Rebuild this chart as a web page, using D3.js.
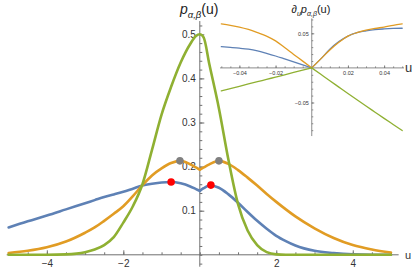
<!DOCTYPE html>
<html><head><meta charset="utf-8">
<script src="https://cdn.jsdelivr.net/npm/d3@7"></script>
<style>body{margin:0;background:#fff}svg{display:block}text{font-family:"Liberation Sans",Arial,sans-serif}</style>
</head><body>
<svg id="c" width="415" height="272"></svg>
<script>
// ---------- main plot data: p_{α,β}(u) ----------
const uMain = [-5,-4.5,-4,-3.5,-3,-2.75,-2.5,-2.25,-2,-1.75,-1.5,-1.25,-1,-0.75,-0.5,-0.25,-0.1,0,0.1,0.25,0.5,0.75,1,1.25,1.5,1.75,2,2.25,2.5,3,3.5,4,4.5,5];
const blueMain = [0.062,0.076,0.089,0.103,0.117,0.124,0.131,0.137,0.143,0.150,0.157,0.161,0.164,0.165,0.162,0.155,0.149,0.145,0.151,0.157,0.152,0.137,0.118,0.097,0.077,0.059,0.043,0.031,0.021,0.009,0.004,0.001,0,0];
const orangeMain = [0.004,0.009,0.017,0.030,0.050,0.062,0.077,0.093,0.110,0.133,0.158,0.180,0.196,0.208,0.213,0.205,0.198,0.193,0.198,0.205,0.213,0.206,0.192,0.175,0.157,0.138,0.120,0.103,0.087,0.060,0.038,0.022,0.012,0.005];
const greenMain = [0,0,0,0.001,0.006,0.012,0.022,0.040,0.073,0.110,0.160,0.238,0.318,0.381,0.436,0.478,0.496,0.500,0.493,0.432,0.332,0.215,0.115,0.055,0.022,0.006,0.001,0,0,0,0,0,0,0];
const grayDotsU = [-0.52, 0.5];
const grayDotsV = [0.213, 0.213];
const redDotsU = [-0.75, 0.29];
const redDotsV = [0.165, 0.158];
const xMajor = [-4,-2,2,4];
const yMajor = [0.1,0.2,0.3,0.4,0.5];

// ---------- inset data: ∂_u p_{α,β}(u) ----------
const uInset = [-0.05,-0.045,-0.04,-0.035,-0.03,-0.025,-0.02,-0.015,-0.01,-0.005,0,0.005,0.01,0.015,0.02,0.025,0.03,0.035,0.04,0.045,0.05];
const blueInset = [0.0306,0.0296,0.0285,0.0270,0.0245,0.0210,0.0172,0.0130,0.0087,0.0043,0,0.0130,0.0270,0.0380,0.0460,0.0510,0.0535,0.0553,0.0563,0.0570,0.0573];
const orangeInset = [0.0635,0.0615,0.0590,0.0555,0.0510,0.0460,0.0390,0.0295,0.0195,0.0098,0,0.0130,0.0260,0.0370,0.0460,0.0510,0.0545,0.0570,0.0590,0.0615,0.0635];
const greenInset = [-0.0332,-0.0299,-0.0266,-0.0232,-0.0199,-0.0166,-0.0133,-0.0100,-0.0066,-0.0033,0,-0.0093,-0.0186,-0.0278,-0.0370,-0.0461,-0.0551,-0.0640,-0.0729,-0.0817,-0.0905];
const xiMajor = [-0.04,-0.02,0.02,0.04];
const yiMajor = [-0.05,0.05];

const COLORS = {blue:"#5e81b5", orange:"#e19c24", green:"#8fb032"};
const AXIS = "#6f6f6f", LABEL = "#333";

const svg = d3.select("#c");

// scales
const x = d3.scaleLinear().domain([-5,5]).range([8.6,391]);
const y = d3.scaleLinear().domain([0,0.5]).range([254.8,34.3]);
const xi = d3.scaleLinear().domain([-0.05,0.05]).range([221.3,402.2]);
const yi = d3.scaleLinear().domain([-0.05,0.05]).range([102.5,33.3]);

function rangeStep(a,b,s){const o=[];for(let i=0;a+i*s<=b+1e-9;i++)o.push(+(a+i*s).toFixed(6));return o;}

function drawAxes(g, sx, sy, o){
  // domain lines
  g.append("line").attr("x1",sx(o.xExt[0])).attr("x2",sx(o.xExt[1])).attr("y1",sy(0)).attr("y2",sy(0))
    .attr("stroke",AXIS).attr("stroke-width",o.lw);
  g.append("line").attr("y1",sy(o.yExt[0])).attr("y2",sy(o.yExt[1])).attr("x1",sx(0)).attr("x2",sx(0))
    .attr("stroke",AXIS).attr("stroke-width",o.lw);
  // x minor ticks
  const gx = g.append("g").attr("transform",`translate(0,${sy(0)})`);
  gx.call(d3.axisBottom(sx).tickValues(o.xMinor).tickSize(-o.minorLen).tickFormat(""));
  gx.call(g2=>g2.select(".domain").remove());
  const gx2 = g.append("g").attr("transform",`translate(0,${sy(0)})`);
  gx2.call(d3.axisBottom(sx).tickValues(o.xMajor).tickSizeInner(-o.majorLen).tickSizeOuter(0).tickPadding(o.xPad).tickFormat(o.xFmt));
  gx2.select(".domain").remove();
  const gy = g.append("g").attr("transform",`translate(${sx(0)},0)`);
  gy.call(d3.axisLeft(sy).tickValues(o.yMinor).tickSize(-o.minorLen).tickFormat(""));
  gy.select(".domain").remove();
  const gy2 = g.append("g").attr("transform",`translate(${sx(0)},0)`);
  gy2.call(d3.axisLeft(sy).tickValues(o.yMajor).tickSizeInner(-o.majorLen).tickSizeOuter(0).tickPadding(o.yPad).tickFormat(o.yFmt));
  gy2.select(".domain").remove();
  g.selectAll(".tick line").attr("stroke",AXIS).attr("stroke-width",o.lw);
  g.selectAll(".tick text").attr("fill",LABEL).attr("font-size",o.fs).attr("font-family",'"Liberation Sans",Arial,sans-serif');
}

// main axes
const gMain = svg.append("g");
drawAxes(gMain, x, y, {
  xExt:[-5.05,5.2], yExt:[-0.027,0.53], lw:1,
  xMinor: rangeStep(-5,5,0.5), yMinor: rangeStep(-0.02,0.52,0.02),
  xMajor, yMajor, minorLen:2.5, majorLen:4.5, xPad:5, yPad:4, fs:10,
  xFmt:d3.format("d"), yFmt:d3.format(".1f")
});
svg.append("text").attr("x",405).attr("y",259).attr("font-size",11).attr("fill",LABEL).text("u");

// title
const t = svg.append("text").attr("x",180).attr("y",14).attr("fill","#222").attr("font-size",14);
t.append("tspan").attr("font-style","italic").text("p");
t.append("tspan").attr("font-style","italic").attr("font-size",9.5).attr("dy",3.5).text("α,β");
t.append("tspan").attr("dy",-3.5).text("(u)");

// curves
function drawCurve(g, sx, sy, us, vs, color, w, split){
  const pts = us.map((u,i)=>[u,vs[i]]);
  const line = d3.line().x(d=>sx(d[0])).y(d=>sy(d[1])).curve(d3.curveMonotoneX);
  const parts = split ? [pts.filter(d=>d[0]<=0), pts.filter(d=>d[0]>=0)] : [pts];
  parts.forEach(p=>g.append("path").attr("d",line(p)).attr("fill","none").attr("stroke",color)
    .attr("stroke-width",w).attr("stroke-linejoin","round").attr("stroke-linecap","round"));
}
drawCurve(gMain, x, y, uMain, blueMain, COLORS.blue, 2.6, true);
drawCurve(gMain, x, y, uMain, orangeMain, COLORS.orange, 2.6, true);
drawCurve(gMain, x, y, uMain, greenMain, COLORS.green, 2.6, false);

gMain.selectAll("circle.g").data(grayDotsU).join("circle").attr("class","g")
  .attr("cx",d=>x(d)).attr("cy",(d,i)=>y(grayDotsV[i])).attr("r",3.8).attr("fill","#808080");
gMain.selectAll("circle.r").data(redDotsU).join("circle").attr("class","r")
  .attr("cx",d=>x(d)).attr("cy",(d,i)=>y(redDotsV[i])).attr("r",3.8).attr("fill","#ff0000");

// inset
const gIn = svg.append("g");
drawAxes(gIn, xi, yi, {
  xExt:[-0.0507,0.051], yExt:[-0.0985,0.0715], lw:0.8,
  xMinor: rangeStep(-0.05,0.05,0.005), yMinor: rangeStep(-0.09,0.07,0.01),
  xMajor: xiMajor, yMajor: yiMajor, minorLen:1.5, majorLen:2.5, xPad:3, yPad:3, fs:5.5,
  xFmt:d3.format(".2f"), yFmt:d3.format(".2f")
});
drawCurve(gIn, xi, yi, uInset, blueInset, COLORS.blue, 1.3, true);
drawCurve(gIn, xi, yi, uInset, orangeInset, COLORS.orange, 1.3, true);
drawCurve(gIn, xi, yi, uInset, greenInset, COLORS.green, 1.3, true);
svg.append("text").attr("x",405).attr("y",72).attr("font-size",13).attr("fill",LABEL).text("u");

const ti = svg.append("text").attr("x",291.5).attr("y",13).attr("fill","#222").attr("font-size",11);
ti.append("tspan").text("∂");
ti.append("tspan").attr("font-style","italic").attr("font-size",7).attr("dy",2.5).text("u");
ti.append("tspan").attr("font-style","italic").attr("dy",-2.5).text("p");
ti.append("tspan").attr("font-style","italic").attr("font-size",7).attr("dy",2.5).text("α,β");
ti.append("tspan").attr("dy",-2.5).text("(u)");
</script>
</body></html>
